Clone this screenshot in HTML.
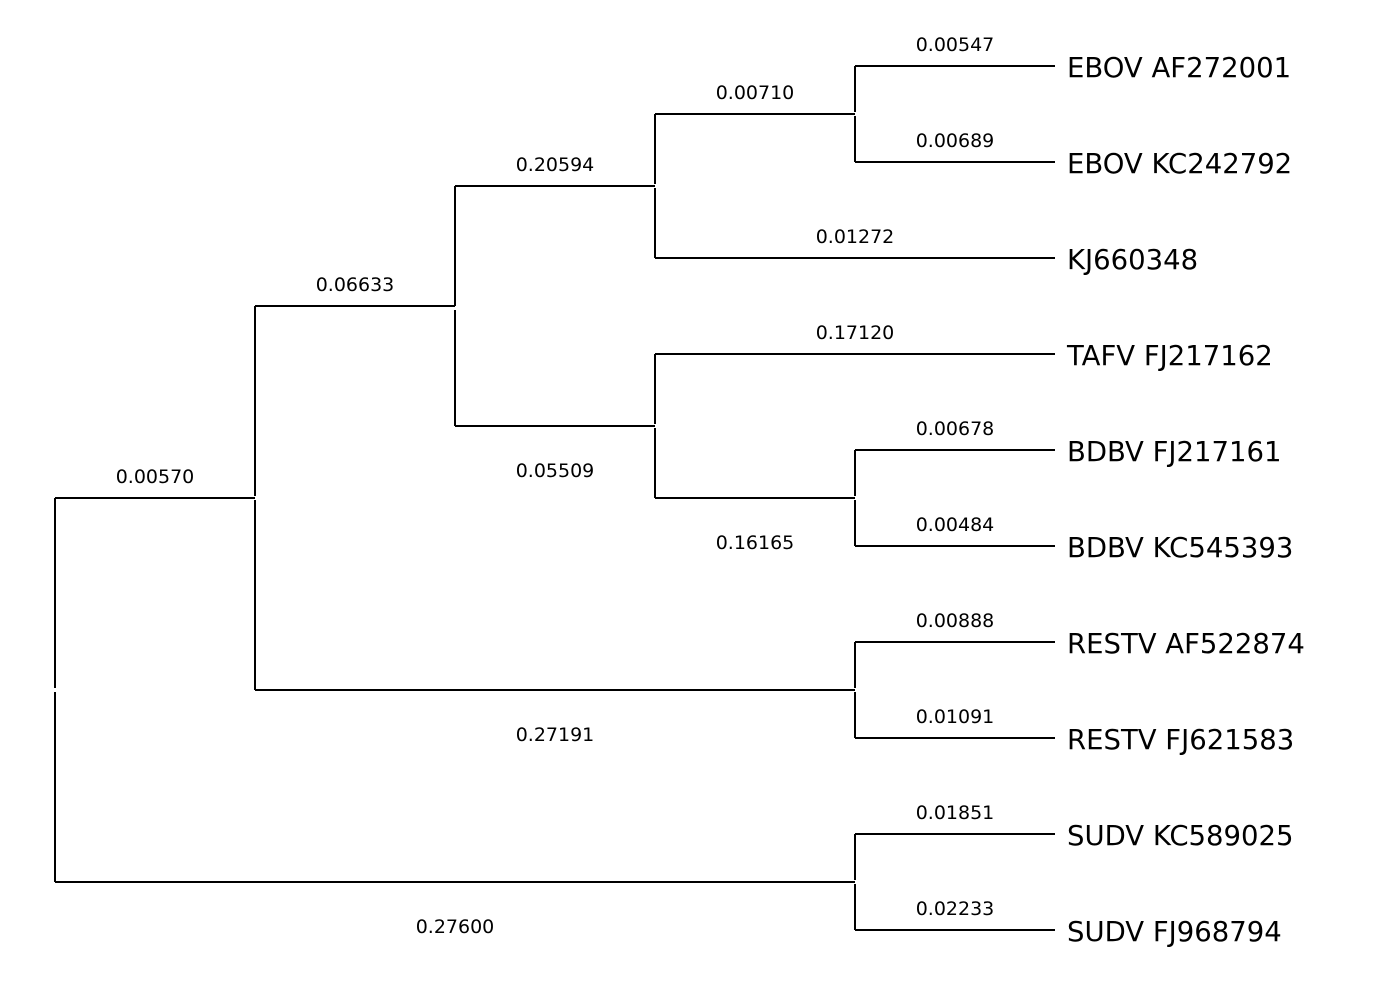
<!DOCTYPE html>
<html><head><meta charset="utf-8"><style>
html,body{margin:0;padding:0;background:#fff;width:1378px;height:1000px;overflow:hidden}
svg text{font-family:"DejaVu Sans","Liberation Sans",sans-serif;fill:#000}
.s{font-size:19px;text-anchor:middle}
.l{font-size:27.5px}
</style></head><body>
<svg width="1378" height="1000" xmlns="http://www.w3.org/2000/svg">
<g stroke="#000" stroke-width="2" fill="none">
<path d="M55 498V688M55 692V882M55 498H255M55 882H855"/>
<path d="M255 306V496M255 500V690M255 306H455M255 690H855"/>
<path d="M455 186V306M455 310V426M455 186H655M455 426H655"/>
<path d="M655 114V184M655 188V258M655 114H855M655 258H1055"/>
<path d="M855 66V112M855 116V162M855 66H1055M855 162H1055"/>
<path d="M655 354V424M655 428V498M655 354H1055M655 498H855"/>
<path d="M855 450V496M855 500V546M855 450H1055M855 546H1055"/>
<path d="M855 642V688M855 692V738M855 642H1055M855 738H1055"/>
<path d="M855 834V880M855 884V930M855 834H1055M855 930H1055"/>
</g>
<g class="s">
<text class="s" x="955" y="51">0.00547</text>
<text class="s" x="955" y="147">0.00689</text>
<text class="s" x="755" y="99">0.00710</text>
<text class="s" x="555" y="171">0.20594</text>
<text class="s" x="855" y="243">0.01272</text>
<text class="s" x="355" y="291">0.06633</text>
<text class="s" x="855" y="339">0.17120</text>
<text class="s" x="955" y="435">0.00678</text>
<text class="s" x="555" y="477">0.05509</text>
<text class="s" x="155" y="483">0.00570</text>
<text class="s" x="955" y="531">0.00484</text>
<text class="s" x="755" y="549">0.16165</text>
<text class="s" x="955" y="627">0.00888</text>
<text class="s" x="955" y="723">0.01091</text>
<text class="s" x="555" y="741">0.27191</text>
<text class="s" x="955" y="819">0.01851</text>
<text class="s" x="955" y="915">0.02233</text>
<text class="s" x="455" y="933">0.27600</text>
</g>
<text class="l" x="1067" y="77">EBOV AF272001</text>
<text class="l" x="1067" y="173">EBOV KC242792</text>
<text class="l" x="1067" y="269">KJ660348</text>
<text class="l" x="1067" y="365">TAFV FJ217162</text>
<text class="l" x="1067" y="461">BDBV FJ217161</text>
<text class="l" x="1067" y="557">BDBV KC545393</text>
<text class="l" x="1067" y="653">RESTV AF522874</text>
<text class="l" x="1067" y="749">RESTV FJ621583</text>
<text class="l" x="1067" y="845">SUDV KC589025</text>
<text class="l" x="1067" y="941">SUDV FJ968794</text>
</svg>
</body></html>
